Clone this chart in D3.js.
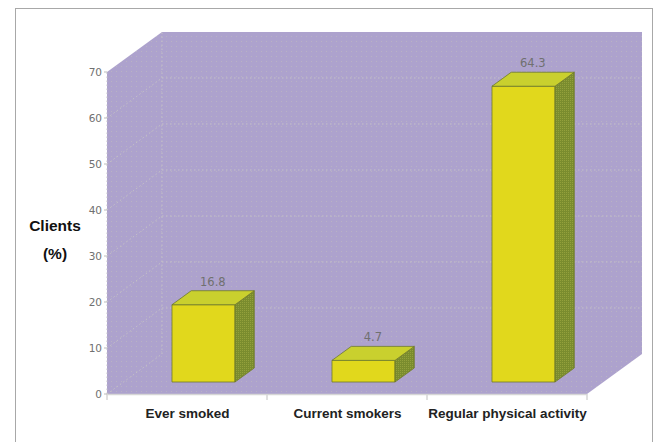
<!DOCTYPE html>
<html><head><meta charset="utf-8">
<script src="https://cdn.jsdelivr.net/npm/d3@7"></script>
<style>html,body{margin:0;padding:0;background:#fff;}svg{display:block;}</style>
</head><body>
<script>
const categories = ["Ever smoked", "Current smokers", "Regular physical activity"];
const values = [16.8, 4.7, 64.3];
const valueLabels = ["16.8", "4.7", "64.3"];
const yTicks = [0, 10, 20, 30, 40, 50, 60, 70];

const W = 658, H = 442;
const svg = d3.select("body").append("svg").attr("width", W).attr("height", H);

const x = d3.scaleBand().domain(categories).range([107, 587]).paddingInner(0.606).paddingOuter(0.303);
const y = d3.scaleLinear().domain([0, 70]).range([394, 72]);
const DX = 55, DY = -40;
const P = (px, v, z) => [px + z * DX, y(v) + z * DY];

const defs = svg.append("defs");
const pat = defs.append("pattern").attr("id", "dots").attr("width", 5).attr("height", 5).attr("patternUnits", "userSpaceOnUse");
pat.append("rect").attr("width", 5).attr("height", 5).attr("fill", "#ada2cd");
pat.append("rect").attr("x", 1).attr("y", 1).attr("width", 1).attr("height", 1).attr("fill", "#b8b4c2");
const sp = defs.append("pattern").attr("id", "side").attr("width", 2).attr("height", 2).attr("patternUnits", "userSpaceOnUse");
sp.append("rect").attr("width", 2).attr("height", 2).attr("fill", "#7a8c2e");
sp.append("rect").attr("width", 1).attr("height", 1).attr("fill", "#93a03c");

// outer frame
svg.append("rect").attr("x", 15.5).attr("y", 8.5).attr("width", 637).attr("height", 440)
  .attr("fill", "#fff").attr("stroke", "#a8a8a8").attr("stroke-width", 1);

const x0 = 107, x1 = 587;
const box = [P(x0, 70, 0), P(x0, 70, 1), P(x1, 70, 1), P(x1, 0, 1), P(x1, 0, 0), P(x0, 0, 0)];
svg.append("path").attr("d", d3.line()(box) + "Z").attr("fill", "url(#dots)");

const grid = svg.append("g").attr("stroke", "#c4c0c8").attr("stroke-width", 1).attr("stroke-dasharray", "1.5,2.5").attr("fill", "none");
yTicks.forEach(t => {
  if (t > 0 && t < 70) {
    grid.append("path").attr("d", d3.line()([P(x0, t, 1), P(x1, t, 1)]));
  }
  if (t < 70) grid.append("path").attr("d", d3.line()([P(x0, t, 0), P(x0, t, 1)]));
});
grid.append("path").attr("d", d3.line()([P(x0, 0, 1), P(x0, 70, 1)]));
grid.append("path").attr("d", d3.line()([P(x0, 0, 0), P(x0, 70, 0)]));

// front floor edge + category ticks
const ax = svg.append("g").attr("stroke", "#d6d6d6").attr("stroke-width", 1.5);
ax.append("line").attr("x1", x0).attr("x2", x1).attr("y1", y(0) + 0.5).attr("y2", y(0) + 0.5);
const step = x.step();
[0, 1, 2, 3].forEach(i => {
  const xx = x0 + i * step;
  ax.append("line").attr("x1", xx).attr("x2", xx).attr("y1", y(0)).attr("y2", y(0) + 6);
});

// y axis ticks and labels
const ya = svg.append("g");
yTicks.forEach(t => {
  ya.append("line").attr("x1", x0 - 3).attr("x2", x0).attr("y1", y(t)).attr("y2", y(t)).attr("stroke", "#bbb");
  ya.append("text").attr("x", x0 - 5).attr("y", y(t)).attr("dy", "0.35em").attr("text-anchor", "end")
    .attr("font-family", "DejaVu Sans, Verdana, sans-serif").attr("font-size", 10.5).attr("fill", "#707070").text(t);
});

// bars
const z0 = 0.3, z1 = 0.65;
const bars = svg.append("g");
categories.forEach((c, i) => {
  const v = values[i];
  const bx0 = x(c), bx1 = x(c) + x.bandwidth();
  const g = bars.append("g").attr("stroke", "#6f7a2a").attr("stroke-width", 0.8).attr("stroke-linejoin", "round");
  const front = [P(bx0, 0, z0), P(bx1, 0, z0), P(bx1, v, z0), P(bx0, v, z0)];
  g.append("path").attr("d", d3.line()(front) + "Z").attr("fill", "#e1d81c");
  const side = [P(bx1, 0, z0), P(bx1, 0, z1), P(bx1, v, z1), P(bx1, v, z0)];
  g.append("path").attr("d", d3.line()(side) + "Z").attr("fill", "url(#side)");
  const top = [P(bx0, v, z0), P(bx1, v, z0), P(bx1, v, z1), P(bx0, v, z1)];
  g.append("path").attr("d", d3.line()(top) + "Z").attr("fill", "#c9d02e");
  const lp = P((bx0 + bx1) / 2, v, z0 + 0.17);
  bars.append("text").attr("x", lp[0]).attr("y", P(bx0, v, z1)[1] - 5).attr("text-anchor", "middle")
    .attr("font-family", "DejaVu Sans, Verdana, sans-serif").attr("font-size", 11.5).attr("fill", "#707070").text(valueLabels[i]);
});

// category labels
categories.forEach(c => {
  svg.append("text").attr("x", x(c) + x.bandwidth() / 2 + 0.5).attr("y", 418).attr("text-anchor", "middle")
    .attr("font-family", "Liberation Sans, Arial, sans-serif").attr("font-size", 13.5).attr("font-weight", "bold")
    .attr("fill", "#222").text(c);
});

// y axis title
const yt = svg.append("g").attr("font-family", "Liberation Sans, Arial, sans-serif").attr("font-size", 15.5)
  .attr("font-weight", "bold").attr("fill", "#111").attr("text-anchor", "middle");
yt.append("text").attr("x", 55).attr("y", 231).text("Clients");
yt.append("text").attr("x", 55).attr("y", 259).text("(%)");
</script>
</body></html>
